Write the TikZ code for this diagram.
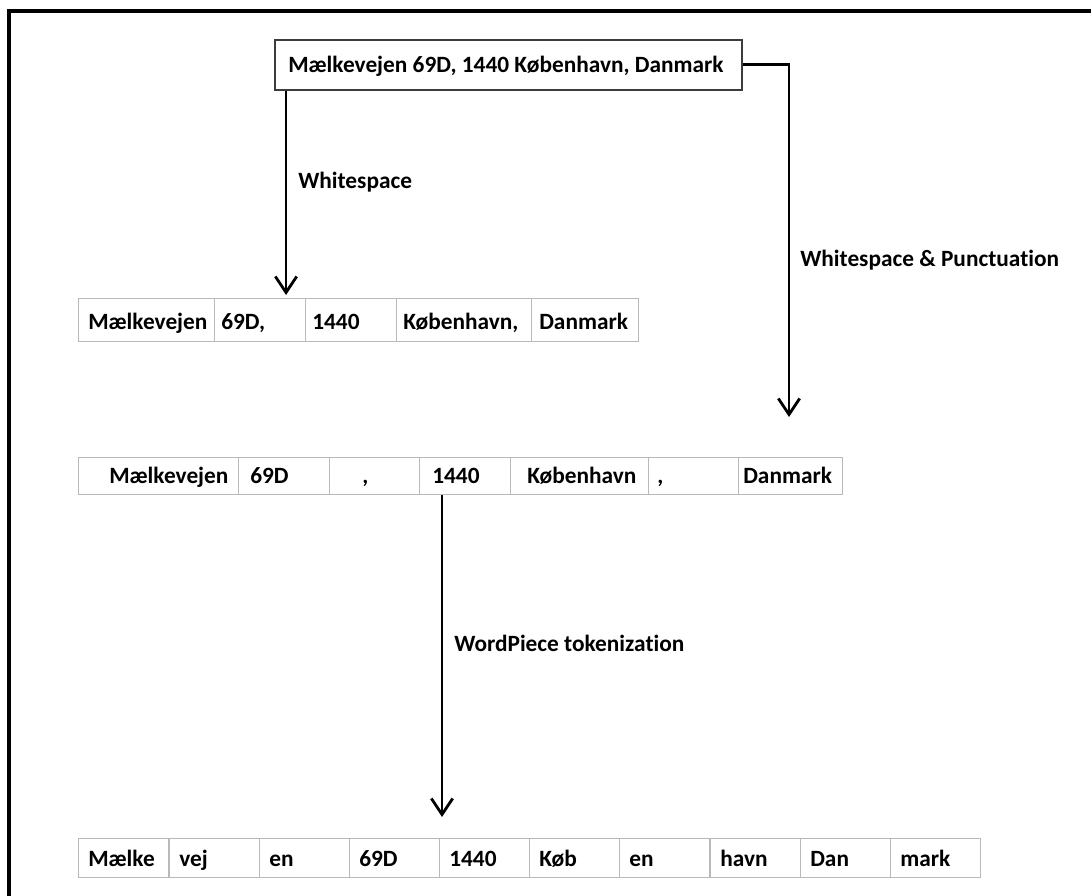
\documentclass[tikz,border=0pt]{standalone}
\usepackage{fontspec}
\setmainfont{Carlito}[Ligatures=NoCommon]
\usetikzlibrary{arrows.meta}
\definecolor{cellgray}{RGB}{185,185,185}
\definecolor{boxgray}{RGB}{60,60,60}
\begin{document}
\begin{tikzpicture}[x=0.75pt, y=-0.75pt,
  frame/.style={line width=2.3pt, line join=miter},
  topbox/.style={draw=boxgray, line width=1.3pt, inner sep=0pt, anchor=north west},
  cell/.style={draw=cellgray, line width=1.1pt, inner sep=0pt, anchor=north west},
  lbl/.style={inner sep=0pt, anchor=base west, font=\fontsize{17.5}{20}\selectfont\bfseries},
  conn/.style={line width=2.1pt, -{Straight Barb[length=12pt, width=16pt, line width=2.1pt]}}]
\useasboundingbox (0,0) rectangle (1091,895);
\fill[white] (0,0) rectangle (1091,895);

% outer frame (runs off the right and bottom edges)
\draw[frame] (9,1000) -- (9,11) -- (1200,11);

% source string
\node[topbox, minimum width=467*0.75pt, minimum height=50*0.75pt] (src) at (274,39) {};
\node[lbl] (srct) at (288,73) {Mælkevejen 69D, 1440 København, Danmark};

% row 1: split on whitespace
\node[cell, minimum width=136*0.75pt, minimum height=43*0.75pt] (a1) at (78,298) {};
\node[cell, minimum width=91*0.75pt,  minimum height=43*0.75pt] (a2) at (214,298) {};
\node[cell, minimum width=91*0.75pt,  minimum height=43*0.75pt] (a3) at (305,298) {};
\node[cell, minimum width=135*0.75pt, minimum height=43*0.75pt] (a4) at (396,298) {};
\node[cell, minimum width=107*0.75pt, minimum height=43*0.75pt] (a5) at (531,298) {};
\node[lbl] (a1t) at (88,329) {Mælkevejen};
\node[lbl] (a2t) at (221,329) {69D,};
\node[lbl] (a3t) at (312,329) {1440};
\node[lbl] (a4t) at (403,329) {København,};
\node[lbl] (a5t) at (539,329) {Danmark};

% row 2: split on whitespace and punctuation
\node[cell, minimum width=160*0.75pt, minimum height=37*0.75pt] (b1) at (78,457) {};
\node[cell, minimum width=91*0.75pt,  minimum height=37*0.75pt] (b2) at (238,457) {};
\node[cell, minimum width=90*0.75pt,  minimum height=37*0.75pt] (b3) at (329,457) {};
\node[cell, minimum width=91*0.75pt,  minimum height=37*0.75pt] (b4) at (419,457) {};
\node[cell, minimum width=138*0.75pt, minimum height=37*0.75pt] (b5) at (510,457) {};
\node[cell, minimum width=90*0.75pt,  minimum height=37*0.75pt] (b6) at (648,457) {};
\node[cell, minimum width=104*0.75pt, minimum height=37*0.75pt] (b7) at (738,457) {};
\node[lbl] (b1t) at (109,483) {Mælkevejen};
\node[lbl] (b2t) at (250,483) {69D};
\node[lbl] (b3t) at (362,483) {,};
\node[lbl] (b4t) at (432,483) {1440};
\node[lbl] (b5t) at (527,483) {København};
\node[lbl] (b6t) at (657,483) {,};
\node[lbl] (b7t) at (743,483) {Danmark};

% row 3: WordPiece tokens
\foreach \i/\x/\w in {1/78/Mælke,2/169/vej,3/259/en,4/349/69D,5/439/1440,
                      6/529/Køb,7/619/en,8/710/havn,9/800/Dan,10/890/mark} {
  \node[cell, minimum width=90*0.75pt, minimum height=39*0.75pt] (c\i) at (\x,838) {};
  \node[lbl] (c\i t) at (\x+10,866) {\w};
}

% connectors
\coordinate (tipA) at (286,295);
\coordinate (tipB) at (789,417);
\coordinate (tipC) at (442,817);
\draw[conn] (src.south -| tipA) -- (tipA);
\draw[conn] (src.east) -| (tipB);
\draw[conn] (b4.south -| tipC) -- (tipC);

% connector labels
\node[lbl] (l1) at (298,188) {Whitespace};
\node[lbl] (l2) at (800,266) {Whitespace \& Punctuation};
\node[lbl] (l3) at (454,651) {WordPiece tokenization};
\end{tikzpicture}
\end{document}
